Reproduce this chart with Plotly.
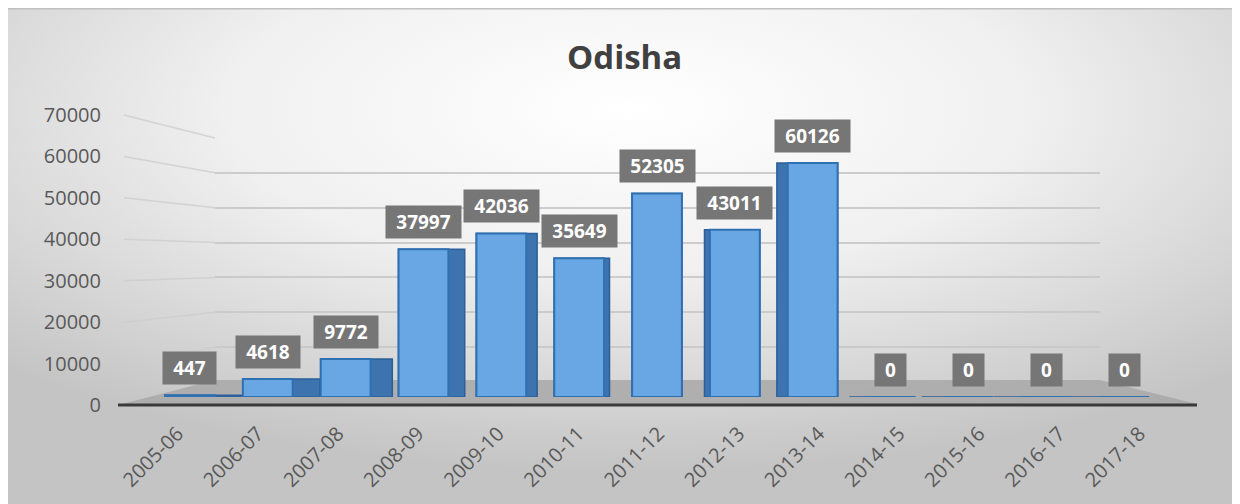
import base64
import plotly.graph_objects as go

W, H = 1240, 504
OFF = 8  # page body margin of the html page

categories = ["2005-06", "2006-07", "2007-08", "2008-09", "2009-10", "2010-11", "2011-12",
              "2012-13", "2013-14", "2014-15", "2015-16", "2016-17", "2017-18"]
values = [447, 4618, 9772, 37997, 42036, 35649, 52305, 43011, 60126, 0, 0, 0, 0]
y_ticks = [0, 10000, 20000, 30000, 40000, 50000, 60000, 70000]
title_text = "Odisha"

# pixel geometry of the (pseudo 3-D) chart
LAB_Y0, LAB_Y1 = 405, 115      # y of 0 / 70000 for the axis labels
WALL_Y0, WALL_Y1 = 382, 138    # y of 0 / 70000 on the back wall
WALL_X0, WALL_X1 = 215, 1100
BAR_Y0, BAR_Y1 = 397, 124.6    # y of 0 / 70000 at the bar fronts
YMAX = 70000


def fx(px):
    return (px - OFF) / W


def fy(py):
    return 1 - (py - OFF) / H


svg = (
    "<svg xmlns='http://www.w3.org/2000/svg' width='1240' height='504'>"
    "<defs><radialGradient id='g' cx='0.5' cy='0.2' r='0.72'>"
    "<stop offset='0' stop-color='#ffffff'/>"
    "<stop offset='0.45' stop-color='#f0f0f0'/>"
    "<stop offset='1' stop-color='#c4c4c4'/>"
    "</radialGradient></defs>"
    "<rect x='0' y='0' width='1240' height='504' fill='url(#g)'/>"
    "<rect x='0' y='0' width='1240' height='1.5' fill='#c0c0c0'/>"
    "</svg>"
)
bg_src = "data:image/svg+xml;base64," + base64.b64encode(svg.encode()).decode()

fig = go.Figure()

# subplot 1 : back-wall grid lines
fig.add_trace(go.Scatter(x=[categories[0]], y=[0], mode="markers",
                         marker=dict(opacity=0), hoverinfo="skip", showlegend=False,
                         xaxis="x", yaxis="y"))
# subplot 2 : axis labels
fig.add_trace(go.Scatter(x=categories, y=[0] * len(categories), mode="markers",
                         marker=dict(opacity=0), hoverinfo="skip", showlegend=False,
                         xaxis="x2", yaxis="y2"))

# subplot 3 : bars (darker side face + front face)
front_w = 0.64
side = [0.07 * (6 - i) for i in range(len(categories))]
side_offset = [-front_w / 2 + min(0.0, d) for d in side]
side_width = [front_w + abs(d) for d in side]
fig.add_trace(go.Bar(x=categories, y=values, xaxis="x3", yaxis="y3",
                     offset=side_offset, width=side_width,
                     marker=dict(color="#3d74b0", line=dict(color="#2a5f98", width=1.5)),
                     showlegend=False, hoverinfo="skip"))
fig.add_trace(go.Bar(x=categories, y=values, xaxis="x3", yaxis="y3",
                     offset=-front_w / 2, width=front_w,
                     marker=dict(color="#68a7e3", line=dict(color="#2f70b2", width=2)),
                     showlegend=False, hoverinfo="x+y"))

annotations = []
for c, v in zip(categories, values):
    t = str(v)
    annotations.append(dict(
        x=c, y=v, xref="x3", yref="y3", text="<b>%s</b>" % t, showarrow=False,
        yanchor="bottom", yshift=10, bgcolor="#767676",
        width=11 * len(t) + 16, height=28, borderpad=2,
        font=dict(family="Open Sans", size=19, color="#ffffff")))

annotations.append(dict(
    x=fx(624), y=fy(56), xref="paper", yref="paper", text="<b>%s</b>" % title_text,
    showarrow=False, xanchor="center", yanchor="middle",
    font=dict(family="Open Sans", size=33, color="#404040")))

shapes = [
    # floor
    dict(type="path", xref="paper", yref="paper", layer="below",
         path="M %f %f L %f %f L %f %f L %f %f Z" % (
             fx(122), fy(404), fx(WALL_X0), fy(380), fx(WALL_X1), fy(380), fx(1197), fy(404)),
         fillcolor="rgba(168,168,168,0.85)", line=dict(width=0)),
    # axis line
    dict(type="line", xref="paper", yref="paper", layer="above",
         x0=fx(118), x1=fx(1197), y0=fy(405), y1=fy(405),
         line=dict(color="#3a3a3a", width=3)),
]
# slanted side-wall continuation of the grid lines
for t in y_ticks[1:]:
    y_lab = LAB_Y0 + (LAB_Y1 - LAB_Y0) * t / YMAX
    y_wall = WALL_Y0 + (WALL_Y1 - WALL_Y0) * t / YMAX
    shapes.append(dict(type="line", xref="paper", yref="paper", layer="below",
                       x0=fx(124), y0=fy(y_lab), x1=fx(WALL_X0), y1=fy(y_wall),
                       line=dict(color="rgba(205,205,205,0.8)", width=1.5)))

tick_font = dict(family="Open Sans", size=20, color="#595959")
hidden = dict(showticklabels=False, showgrid=False, zeroline=False, showline=False,
              ticks="", automargin=False)

fig.update_layout(
    template="none",
    width=W, height=H, margin=dict(l=0, r=0, t=0, b=0, pad=0),
    paper_bgcolor="rgba(0,0,0,0)", plot_bgcolor="rgba(0,0,0,0)",
    images=[dict(source=bg_src, xref="paper", yref="paper", x=0, y=1, sizex=1, sizey=1,
                 xanchor="left", yanchor="top", sizing="stretch", layer="below")],
    shapes=shapes, annotations=annotations, showlegend=False, barmode="overlay",
    xaxis=dict(type="category", domain=[fx(WALL_X0), fx(WALL_X1)], anchor="y",
               categoryorder="array", categoryarray=categories, **hidden),
    yaxis=dict(domain=[fy(WALL_Y0), fy(WALL_Y1)], anchor="x", range=[0, YMAX],
               tickvals=y_ticks[1:], showticklabels=False, showgrid=True,
               gridcolor="rgba(200,200,200,0.9)", gridwidth=1.5, zeroline=False,
               showline=False, ticks="", automargin=False),
    xaxis2=dict(type="category", domain=[fx(120), fx(1197)], anchor="y2", showgrid=False,
                zeroline=False, showline=False, ticks="", tickangle=-45, tickfont=tick_font,
                ticklabelstandoff=12, automargin=False,
                categoryorder="array", categoryarray=categories),
    yaxis2=dict(domain=[fy(LAB_Y0), fy(LAB_Y1)], anchor="x2", range=[0, YMAX],
                tickvals=y_ticks, tickformat="d", showgrid=False, zeroline=False,
                showline=False, ticks="", tickfont=tick_font, ticklabelstandoff=18,
                automargin=False),
    xaxis3=dict(type="category", domain=[fx(151), fx(1163)], anchor="y3",
                categoryorder="array", categoryarray=categories, **hidden),
    yaxis3=dict(domain=[fy(BAR_Y0), fy(BAR_Y1)], anchor="x3", range=[0, YMAX], **hidden),
)

fig.write_html("out.html")
